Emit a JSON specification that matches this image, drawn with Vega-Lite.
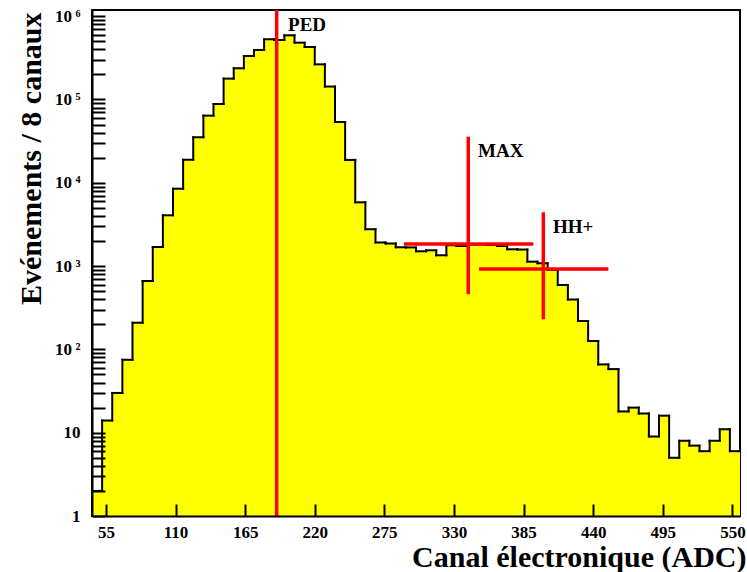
{
  "$schema": "https://vega.github.io/schema/vega-lite/v6.json",
  "width": 648,
  "height": 506,
  "autosize": "none",
  "padding": {"left": 92, "top": 10, "right": 7, "bottom": 56},
  "background": "white",
  "config": {
    "view": {"stroke": "black", "strokeWidth": 2},
    "font": "Liberation Serif"
  },
  "datasets": {
    "hist": [
      {"lo": 44, "hi": 52, "count": 2},
      {"lo": 52, "hi": 60, "count": 14},
      {"lo": 60, "hi": 68, "count": 30},
      {"lo": 68, "hi": 76, "count": 75},
      {"lo": 76, "hi": 84, "count": 209},
      {"lo": 84, "hi": 92, "count": 662},
      {"lo": 92, "hi": 100, "count": 1695},
      {"lo": 100, "hi": 108, "count": 4070},
      {"lo": 108, "hi": 116, "count": 8490},
      {"lo": 116, "hi": 124, "count": 18900},
      {"lo": 124, "hi": 132, "count": 35200},
      {"lo": 132, "hi": 140, "count": 64000},
      {"lo": 140, "hi": 148, "count": 88300},
      {"lo": 148, "hi": 156, "count": 178000},
      {"lo": 156, "hi": 164, "count": 237000},
      {"lo": 164, "hi": 172, "count": 333000},
      {"lo": 172, "hi": 180, "count": 393000},
      {"lo": 180, "hi": 188, "count": 528000},
      {"lo": 188, "hi": 196, "count": 518000},
      {"lo": 196, "hi": 204, "count": 589000},
      {"lo": 204, "hi": 212, "count": 481000},
      {"lo": 212, "hi": 220, "count": 427000},
      {"lo": 220, "hi": 228, "count": 264000},
      {"lo": 228, "hi": 236, "count": 143000},
      {"lo": 236, "hi": 244, "count": 53700},
      {"lo": 244, "hi": 252, "count": 18800},
      {"lo": 252, "hi": 260, "count": 5830},
      {"lo": 260, "hi": 268, "count": 2770},
      {"lo": 268, "hi": 276, "count": 1920},
      {"lo": 276, "hi": 284, "count": 1866},
      {"lo": 284, "hi": 292, "count": 1682},
      {"lo": 292, "hi": 300, "count": 1675},
      {"lo": 300, "hi": 308, "count": 1506},
      {"lo": 308, "hi": 316, "count": 1548},
      {"lo": 316, "hi": 324, "count": 1348},
      {"lo": 324, "hi": 332, "count": 1778},
      {"lo": 332, "hi": 340, "count": 1742},
      {"lo": 340, "hi": 348, "count": 1806},
      {"lo": 348, "hi": 356, "count": 1820},
      {"lo": 356, "hi": 364, "count": 1790},
      {"lo": 364, "hi": 372, "count": 1743},
      {"lo": 372, "hi": 380, "count": 1591},
      {"lo": 380, "hi": 388, "count": 1580},
      {"lo": 388, "hi": 396, "count": 1130},
      {"lo": 396, "hi": 404, "count": 1081},
      {"lo": 404, "hi": 412, "count": 898},
      {"lo": 412, "hi": 420, "count": 593},
      {"lo": 420, "hi": 428, "count": 397},
      {"lo": 428, "hi": 436, "count": 219},
      {"lo": 436, "hi": 444, "count": 126},
      {"lo": 444, "hi": 452, "count": 66},
      {"lo": 452, "hi": 460, "count": 58},
      {"lo": 460, "hi": 468, "count": 18},
      {"lo": 468, "hi": 476, "count": 20},
      {"lo": 476, "hi": 484, "count": 17},
      {"lo": 484, "hi": 492, "count": 9},
      {"lo": 492, "hi": 500, "count": 16},
      {"lo": 500, "hi": 508, "count": 5},
      {"lo": 508, "hi": 516, "count": 8},
      {"lo": 516, "hi": 524, "count": 7},
      {"lo": 524, "hi": 532, "count": 6},
      {"lo": 532, "hi": 540, "count": 8},
      {"lo": 540, "hi": 548, "count": 11},
      {"lo": 548, "hi": 556, "count": 6}
    ],
    "markers": [
      {"name": "PED", "x": 189.9, "tx": 198.9, "ty": 664000},
      {"name": "MAX", "x": 341.3, "xlo": 290.5, "xhi": 392.7, "y": 1842, "ylo": 459, "yhi": 35750, "tx": 349.0, "ty": 20400},
      {"name": "HH+", "x": 400.6, "xlo": 349.8, "xhi": 452.0, "y": 923, "ylo": 230, "yhi": 4425, "tx": 408.3, "ty": 2500}
    ]
  },
  "layer": [
    {
      "data": {"name": "hist"},
      "mark": {"type": "bar", "color": "#ffff00", "stroke": "#ffff00", "strokeWidth": 0.6, "clip": true},
      "encoding": {
        "x": {
          "field": "lo",
          "type": "quantitative",
          "scale": {"domain": [44, 556], "nice": false, "zero": false},
          "axis": {
            "values": [55, 82.5, 110, 137.5, 165, 192.5, 220, 247.5, 275, 302.5, 330, 357.5, 385, 412.5, 440, 467.5, 495, 522.5, 550],
            "labelExpr": "datum.value % 55 === 0 ? format(datum.value, 'd') : ''",
            "tickSize": -12,
            "ticks": true,
            "tickColor": "black",
            "tickWidth": 2,
            "grid": false,
            "domainColor": "black",
            "domainWidth": 2,
            "labelFont": "Liberation Serif",
            "labelFontWeight": "bold",
            "labelFontSize": 17,
            "labelColor": "black",
            "labelPadding": 20,
            "labelFlush": false,
            "labelOverlap": false,
            "zindex": 1,
            "title": "Canal électronique (ADC)",
            "titleFont": "Liberation Serif",
            "titleFontWeight": "bold",
            "titleFontSize": 30,
            "titleColor": "black",
            "titleAlign": "right",
            "titleAnchor": null,
            "titleBaseline": "alphabetic",
            "titleX": 654,
            "titleY": 50,
            "encode": {
              "ticks": {"update": {"y2": {"signal": "datum.value % 55 === 0 ? -12 : -6"}}}
            }
          }
        },
        "x2": {"field": "hi"},
        "y": {
          "field": "count",
          "type": "quantitative",
          "scale": {"type": "log", "domain": [1, 1186000], "nice": false},
          "axis": {
            "values": [1, 2, 3, 4, 5, 6, 7, 8, 9, 10, 20, 30, 40, 50, 60, 70, 80, 90, 100, 200, 300, 400, 500, 600, 700, 800, 900, 1000, 2000, 3000, 4000, 5000, 6000, 7000, 8000, 9000, 10000, 20000, 30000, 40000, 50000, 60000, 70000, 80000, 90000, 100000, 200000, 300000, 400000, 500000, 600000, 700000, 800000, 900000, 1000000],
            "labelExpr": "datum.value == 1 ? '1\u2009\u2009' : datum.value == 10 ? '10\u2009\u2009' : datum.value == 100 ? '10\u2009²' : datum.value == 1000 ? '10\u2009³' : datum.value == 10000 ? '10\u2009⁴' : datum.value == 100000 ? '10\u2009⁵' : datum.value == 1000000 ? '10\u2009⁶' : ''",
            "tickSize": -13,
            "ticks": true,
            "tickColor": "black",
            "tickWidth": 2,
            "grid": false,
            "domainColor": "black",
            "domainWidth": 2,
            "labelFont": "Liberation Serif",
            "labelFontWeight": "bold",
            "labelFontSize": 17,
            "labelColor": "black",
            "labelPadding": 25,
            "labelFlush": false,
            "labelOverlap": false,
            "zindex": 1,
            "title": "Evénements / 8 canaux",
            "titleFont": "Liberation Serif",
            "titleFontWeight": "bold",
            "titleFontSize": 30,
            "titleColor": "black",
            "titleAngle": 270,
            "titleAlign": "right",
            "titleAnchor": null,
            "titleBaseline": "alphabetic",
            "titleX": -52,
            "titleY": 2,
            "encode": {
              "ticks": {"update": {"x2": {"signal": "indexof([1,10,100,1000,10000,100000,1000000], datum.value) >= 0 ? 13 : 7"}}}
            }
          }
        },
        "y2": {"datum": 1}
      }
    },
    {
      "data": {"name": "hist"},
      "mark": {"type": "rule", "color": "black", "strokeWidth": 2, "strokeCap": "square", "clip": true},
      "encoding": {
        "x": {"field": "lo", "type": "quantitative"},
        "x2": {"field": "hi"},
        "y": {"field": "count", "type": "quantitative"}
      }
    },
    {
      "data": {"name": "hist"},
      "transform": [
        {"window": [{"op": "lag", "field": "count", "as": "prev"}], "sort": [{"field": "lo"}]},
        {"filter": "datum.prev != null"}
      ],
      "mark": {"type": "rule", "color": "black", "strokeWidth": 2, "strokeCap": "square", "clip": true},
      "encoding": {
        "x": {"field": "lo", "type": "quantitative"},
        "y": {"field": "count", "type": "quantitative"},
        "y2": {"field": "prev"}
      }
    },
    {
      "data": {"name": "markers"},
      "transform": [{"filter": "datum.name == 'PED'"}],
      "mark": {"type": "rule", "color": "#ff0000", "strokeWidth": 3.5},
      "encoding": {
        "x": {"field": "x", "type": "quantitative"}
      }
    },
    {
      "data": {"name": "markers"},
      "transform": [{"filter": "datum.name != 'PED'"}],
      "mark": {"type": "rule", "color": "#ff0000", "strokeWidth": 3.5},
      "encoding": {
        "x": {"field": "x", "type": "quantitative"},
        "y": {"field": "ylo", "type": "quantitative"},
        "y2": {"field": "yhi"}
      }
    },
    {
      "data": {"name": "markers"},
      "transform": [{"filter": "datum.name != 'PED'"}],
      "mark": {"type": "rule", "color": "#ff0000", "strokeWidth": 3.5},
      "encoding": {
        "x": {"field": "xlo", "type": "quantitative"},
        "x2": {"field": "xhi"},
        "y": {"field": "y", "type": "quantitative"}
      }
    },
    {
      "data": {"name": "markers"},
      "mark": {"type": "text", "font": "Liberation Serif", "fontWeight": "bold", "fontSize": 19, "align": "left", "baseline": "alphabetic", "color": "black"},
      "encoding": {
        "x": {"field": "tx", "type": "quantitative"},
        "y": {"field": "ty", "type": "quantitative"},
        "text": {"field": "name"}
      }
    }
  ]
}
